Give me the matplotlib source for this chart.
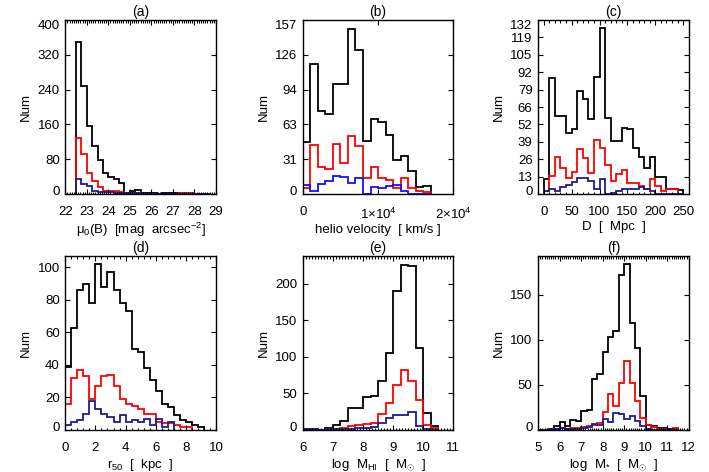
import numpy as np
import matplotlib
matplotlib.use('Agg')
import matplotlib.pyplot as plt
import matplotlib.transforms as mtransforms
from matplotlib.ticker import MultipleLocator, FixedLocator, FixedFormatter

plt.rcParams['font.family'] = ['Liberation Sans', 'DejaVu Sans']
plt.rcParams['mathtext.fontset'] = 'custom'
plt.rcParams['mathtext.rm'] = 'Liberation Sans'
plt.rcParams['mathtext.it'] = 'Liberation Sans:italic'
plt.rcParams['mathtext.bf'] = 'Liberation Sans:bold'

# (a) central surface brightness, bins of 0.25 from 22.5
a_start, a_width = 22.5, 0.25
a_black = [350, 248, 157, 110, 78, 48, 40, 34, 25, 1, 8, 10, 3, 3, 2, 1, 3, 3, 3, 1, 1, 1, 0, 1, 1]
a_red = [128, 92, 48, 30, 15, 8, 8, 6, 4, 2, 2, 1, 1, 1, 0, 1, 1, 1, 0, 3, 3, 3, 0, 0, 0]
a_blue = [34, 22, 18, 8, 5, 4, 4, 3, 3, 2, 2, 2, 1, 1, 1, 1, 1, 1, 1, 1, 1, 0, 0, 0, 0]

# (b) heliocentric velocity, bins of 1000 km/s from 0
b_start, b_width = 0, 1000
b_black = [47, 117, 75, 72, 99, 99, 149, 130, 48, 68, 65, 53, 31, 34, 21, 6, 7]
b_red = [5, 44, 24, 23, 45, 28, 52, 43, 14, 24, 14, 13, 5, 14, 5, 3, 2]
b_blue = [8, 3, 9, 12, 16, 15, 10, 14, 0, 6, 5, 7, 8, 3, 0, 0, 0]
b_yticks = [0, 31.4, 62.8, 94.2, 125.6, 157]
b_ylabels = ['0', '31', '63', '94', '126', '157']
b_xticks = [0, 10000, 20000]
b_xlabels = ['0', r'1$\times$10$^4$', r'2$\times$10$^4$']

# (c) distance, bins of 10 Mpc from 0
c_start, c_width = 0, 10
c_black = [11, 88, 59, 59, 46, 49, 78, 72, 57, 89, 126, 58, 40, 40, 50, 49, 35, 28, 20, 28, 13, 13, 4, 4, 3]
c_red = [2, 14, 28, 20, 12, 17, 34, 27, 16, 41, 35, 22, 10, 15, 18, 8, 8, 6, 4, 11, 6, 2, 4, 4, 0]
c_blue = [2, 4, 2, 5, 7, 9, 12, 12, 10, 4, 11, 0, 1, 2, 4, 4, 4, 5, 4, 2, 0, 0, 0, 0, 0]
c_yticks = [0, 13.2, 26.4, 39.6, 52.8, 66, 79.2, 92.4, 105.6, 118.8, 132]
c_ylabels = ['0', '13', '26', '39', '52', '66', '79', '92', '105', '119', '132']

# (d) r50, bins of 0.4 kpc from 0
d_start, d_width = 0, 0.4
d_black = [39, 63, 86, 90, 78, 102, 88, 97, 86, 78, 73, 50, 48, 38, 31, 24, 16, 14, 9, 6, 5, 3, 2]
d_red = [16, 32, 37, 33, 19, 27, 33, 34, 27, 19, 16, 15, 13, 10, 10, 5, 4, 4, 3, 2, 2]
d_blue = [3, 5, 6, 10, 18, 13, 10, 8, 5, 9, 5, 6, 5, 7, 3, 7, 2, 5]

# (e) log MHI, bins of 0.25 from 6
e_start, e_width = 6.0, 0.25
e_black = [1, 1, 0, 3, 7, 12, 30, 30, 45, 46, 67, 105, 190, 226, 225, 112, 23, 5]
e_red = [0, 1, 0, 1, 2, 3, 5, 7, 8, 10, 22, 37, 62, 82, 67, 41, 7, 3]
e_blue = [1, 1, 0, 1, 1, 2, 2, 3, 3, 4, 10, 17, 20, 21, 25, 6, 2, 0]

# (f) log M*, bins of 0.25 from 5
f_start, f_width = 5.0, 0.25
f_black = [0, 0, 1, 4, 9, 4, 11, 10, 21, 22, 57, 62, 87, 103, 110, 172, 184, 119, 91, 38, 6, 4, 2, 2, 1, 0]
f_red = [0, 0, 0, 1, 2, 1, 2, 2, 3, 4, 5, 8, 20, 40, 27, 52, 77, 52, 32, 13, 5, 3, 1, 1, 0, 2]
f_blue = [0, 0, 1, 1, 2, 1, 1, 1, 2, 3, 7, 5, 12, 9, 19, 18, 12, 16, 10, 4, 1, 0, 0, 0, 0, 0]

navy = '#1e1e8c'

panels = [
    dict(title='(a)', start=a_start, width=a_width, series=[a_black, a_red, a_blue],
         blue=navy, xlim=(22, 29), ylim=(0, 400), xmajor=1, xminor=0.1, ymajor=80,
         xlabel=r'μ$_0$(B)  [mag  arcsec$^{-2}$]'),
    dict(title='(b)', start=b_start, width=b_width, series=[b_black, b_red, b_blue],
         blue='#1010ff', xlim=(0, 20000), ylim=(0, 157), xlabel='helio velocity  [ km/s ]'),
    dict(title='(c)', start=c_start, width=c_width, series=[c_black, c_red, c_blue],
         blue=navy, xlim=(-10, 260), ylim=(0, 132), xmajor=50, xminor=10,
         xlabel='D  [  Mpc  ]'),
    dict(title='(d)', start=d_start, width=d_width, series=[d_black, d_red, d_blue],
         blue=navy, xlim=(0, 10), ylim=(0, 107), xmajor=2, xminor=0.4, ymajor=20,
         xlabel=r'r$_{50}$  [  kpc  ]'),
    dict(title='(e)', start=e_start, width=e_width, series=[e_black, e_red, e_blue],
         blue=navy, xlim=(6, 11), ylim=(0, 238), xmajor=1, xminor=0.1, ymajor=50,
         xlabel=r'log  M$_{\mathrm{HI}}$  [  M$_{\odot}$  ]'),
    dict(title='(f)', start=f_start, width=f_width, series=[f_black, f_red, f_blue],
         blue=navy, xlim=(5, 12), ylim=(0, 193), xmajor=1, xminor=0.1, ymajor=50,
         xlabel=r'log  M$_{*}$  [  M$_{\odot}$  ]'),
]

fig = plt.figure(figsize=(7.09, 4.72), dpi=100)
lefts = [0.0921, 0.4270, 0.7590]
bottoms = [0.589, 0.089]
w, h = 0.2125, 0.3686

axes = []
for i, p in enumerate(panels):
    ax = fig.add_axes([lefts[i % 3], bottoms[i // 3], w, h])
    colors = ['black', 'red', p['blue']]
    for counts, col in zip(p['series'], colors):
        edges = p['start'] + p['width'] * np.arange(len(counts) + 1)
        ax.stairs(counts, edges, baseline=0, color=col, lw=1.3)
    ax.set_xlim(*p['xlim'])
    ax.set_ylim(*p['ylim'])
    if 'xmajor' in p:
        ax.xaxis.set_major_locator(MultipleLocator(p['xmajor']))
        ax.xaxis.set_minor_locator(MultipleLocator(p['xminor']))
    if 'ymajor' in p:
        ax.yaxis.set_major_locator(MultipleLocator(p['ymajor']))
    ax.set_title(p['title'], fontsize=10, pad=3)
    ax.set_xlabel(p['xlabel'], fontsize=9.5, labelpad=2)
    ax.set_ylabel('Num', fontsize=9.5)
    ax.yaxis.set_label_coords(-0.22, 0.5)
    ax.tick_params(which='both', direction='in', top=True, right=True,
                   labelsize=9.5, width=0.8)
    ax.tick_params(which='major', length=3.5)
    ax.tick_params(which='minor', length=1.8)
    ax.tick_params(axis='x', pad=9)
    ax.tick_params(axis='y', pad=4)
    for s in ax.spines.values():
        s.set_linewidth(1.0)
    if i == 1:
        ax.xaxis.set_major_locator(FixedLocator(b_xticks))
        ax.xaxis.set_major_formatter(FixedFormatter(b_xlabels))
        ax.yaxis.set_major_locator(FixedLocator(b_yticks))
        ax.yaxis.set_major_formatter(FixedFormatter(b_ylabels))
    if i == 2:
        ax.yaxis.set_major_locator(FixedLocator(c_yticks))
        ax.yaxis.set_major_formatter(FixedFormatter(c_ylabels))
    axes.append(ax)

# labels at the ends of the y axis sit a little inside the frame, as in the original
fig.canvas.draw()
for ax in axes:
    lo, hi = ax.get_ylim()
    for t in ax.yaxis.get_major_ticks():
        y = t.get_loc()
        if abs(y - lo) < 1e-6 * (hi - lo):
            shift = 2.5
        elif abs(y - hi) < 1e-6 * (hi - lo):
            shift = -3.5
        else:
            continue
        t.label1.set_transform(mtransforms.offset_copy(
            t.label1.get_transform(), fig=fig, y=shift, units='points'))

fig.savefig('out.png', dpi=100)
